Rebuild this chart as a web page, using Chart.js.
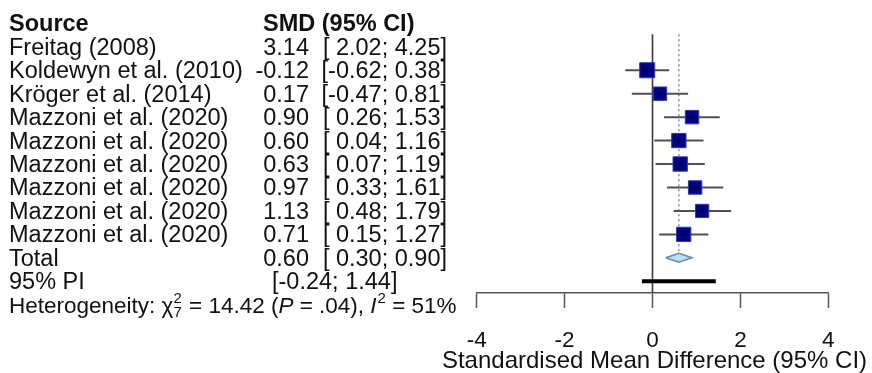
<!DOCTYPE html>
<html lang="en">

<head>
    <meta charset="UTF-8">
    <title>Forest plot SMD</title>
    <style>
        body { margin: 0; background: #fff; }
        #wrap { position: relative; width: 872px; height: 373px; }
    </style>
</head>

<body>
    <div id="wrap">
        <canvas id="forest"></canvas>
    </div>
    <script src="https://cdn.jsdelivr.net/npm/chart.js"></script>
    <script>
        // data
        const studies = ['Freitag (2008)', 'Koldewyn et al. (2010)', 'Kröger et al. (2014)',
            'Mazzoni et al. (2020)', 'Mazzoni et al. (2020)', 'Mazzoni et al. (2020)',
            'Mazzoni et al. (2020)', 'Mazzoni et al. (2020)', 'Mazzoni et al. (2020)'];
        const smd = [3.14, -0.12, 0.17, 0.90, 0.60, 0.63, 0.97, 1.13, 0.71];
        const ciLow = [2.02, -0.62, -0.47, 0.26, 0.04, 0.07, 0.33, 0.48, 0.15];
        const ciHigh = [4.25, 0.38, 0.81, 1.53, 1.16, 1.19, 1.61, 1.79, 1.27];
        // % weight (Freitag excluded, so no box drawn)
        const weights = [0, 14.5, 11.6, 11.7, 13.2, 13.2, 11.6, 11.3, 13.2];
        const totalSmd = 0.60;
        const totalCi = [0.30, 0.90];
        const predInterval = [-0.24, 1.44];
        const xTicks = [-4, -2, 0, 2, 4];
        const hetChi2 = 14.42, hetDf = 7, hetP = '.04', hetI2 = 51;
        const xTitle = 'Standardised Mean Difference (95% CI)';

        // rows: 0 = header, 1..9 studies, 10 total, 11 PI, 12 heterogeneity
        const totalRow = studies.length + 1;
        const piRow = studies.length + 2;
        const hetRow = studies.length + 3;

        const FONT = '"Liberation Sans", Arial, Helvetica, sans-serif';

        function pad(v) {
            return (v < 0 ? '' : ' ') + v.toFixed(2);
        }
        function ciText(lo, hi) {
            return '[' + pad(lo) + '; ' + hi.toFixed(2) + ']';
        }

        const shown = studies.map((s, i) => i).filter(i => weights[i] > 0);

        const datasets = [];
        // CI lines
        shown.forEach(i => {
            datasets.push({
                data: [{ x: ciLow[i], y: i + 1 }, { x: ciHigh[i], y: i + 1 }],
                showLine: true, pointRadius: 0, borderColor: '#505050', borderWidth: 2, order: 5
            });
        });
        // boxes, size from weight
        datasets.push({
            data: shown.map(i => ({ x: smd[i], y: i + 1 })),
            pointStyle: 'rect',
            pointRadius: shown.map(i => 3.94 * Math.sqrt(weights[i]) / 1.414),
            backgroundColor: '#00008b',
            borderColor: '#2a3cb2',
            borderWidth: 1,
            order: 2
        });
        // small centre mark
        datasets.push({
            data: shown.map(i => ({ x: smd[i], y: i + 1 })),
            pointStyle: 'cross', pointRadius: 2.5, borderColor: '#000', borderWidth: 1, order: 1
        });
        // line of no effect
        datasets.push({
            data: [{ x: 0, y: 0.47 }, { x: 0, y: piRow + 0.5 }],
            showLine: true, pointRadius: 0, borderColor: '#3a3a3a', borderWidth: 1.6, order: 10
        });
        // dotted line at the pooled estimate
        datasets.push({
            data: [{ x: totalSmd, y: 0.47 }, { x: totalSmd, y: totalRow - 0.2 }],
            showLine: true, pointRadius: 0, borderColor: '#8a8a8a', borderWidth: 1.5,
            borderDash: [2, 3], order: 9
        });
        // pooled diamond
        datasets.push({
            data: [
                { x: totalCi[0], y: totalRow }, { x: totalSmd, y: totalRow - 0.19 },
                { x: totalCi[1], y: totalRow }, { x: totalSmd, y: totalRow + 0.19 },
                { x: totalCi[0], y: totalRow }
            ],
            showLine: true, pointRadius: 0, fill: 'shape', tension: 0,
            backgroundColor: '#b4e2f0', borderColor: '#6d8d9c', borderWidth: 1.5, order: 4
        });
        // prediction interval
        datasets.push({
            data: [{ x: predInterval[0], y: piRow }, { x: predInterval[1], y: piRow }],
            showLine: true, pointRadius: 0, borderColor: '#000', borderWidth: 4, order: 5
        });

        // text columns on the left + axis title
        const forestText = {
            id: 'forestText',
            afterDraw(chart) {
                const ctx = chart.ctx;
                const ys = chart.scales.y;
                const xs = chart.scales.x;
                const base = r => ys.getPixelForValue(r) + 8;
                ctx.save();
                ctx.fillStyle = '#111';
                ctx.textBaseline = 'alphabetic';

                ctx.textAlign = 'left';
                ctx.font = 'bold 23.5px ' + FONT;
                ctx.fillText('Source', 9, base(0));
                ctx.fillText('SMD (95% CI)', 263, base(0));

                ctx.font = '23.5px ' + FONT;
                const row = (label, est, lo, hi, r) => {
                    ctx.textAlign = 'left';
                    ctx.fillText(label, 9, base(r));
                    ctx.textAlign = 'right';
                    ctx.fillText(est.toFixed(2), 309, base(r));
                    ctx.fillText(ciText(lo, hi), 447, base(r));
                };
                studies.forEach((s, i) => row(s, smd[i], ciLow[i], ciHigh[i], i + 1));
                row('Total', totalSmd, totalCi[0], totalCi[1], totalRow);
                ctx.textAlign = 'left';
                ctx.fillText('95% PI', 9, base(piRow));
                ctx.fillText('[' + predInterval[0].toFixed(2) + '; ' + predInterval[1].toFixed(2) + ']', 272, base(piRow));

                // heterogeneity line
                const b = base(hetRow);
                const norm = '22.5px ' + FONT, ital = 'italic 22.5px ' + FONT, small = '15px ' + FONT;
                let x = 9;
                const put = (t, f, dy) => {
                    ctx.font = f;
                    ctx.fillText(t, x, b + (dy || 0));
                    x += ctx.measureText(t).width;
                };
                put('Heterogeneity: ', norm);
                put('\u03c7', norm);
                ctx.font = small;
                ctx.fillText('2', x, b - 10);
                ctx.fillText(String(hetDf), x, b + 4);
                x += ctx.measureText('2').width + 1;
                put(' = ' + hetChi2.toFixed(2) + ' (', norm);
                put('P', ital);
                put(' = ' + hetP + '), ', norm);
                put('I', ital);
                x += 1;
                put('2', small, -10);
                put(' = ' + hetI2 + '%', norm);

                // x axis title (wider than the plot area)
                ctx.font = '24px ' + FONT;
                ctx.textAlign = 'center';
                ctx.fillText(xTitle, (xs.left + xs.right) / 2 + 2, 368);
                ctx.restore();
            }
        };

        new Chart(document.getElementById('forest'), {
            type: 'scatter',
            data: { datasets: datasets },
            options: {
                responsive: true,
                maintainAspectRatio: false,
                animation: false,
                events: [],
                layout: { padding: { left: 476.7, right: 43.7, top: 10.2, bottom: 0 } },
                plugins: { legend: { display: false }, tooltip: { enabled: false } },
                scales: {
                    x: {
                        type: 'linear', min: -4, max: 4,
                        afterBuildTicks: s => { s.ticks = xTicks.map(v => ({ value: v })); },
                        afterFit: s => { s.height = 80; },
                        border: { display: true, color: '#555', width: 1.5 },
                        grid: { drawOnChartArea: false, drawTicks: true, tickLength: 15, tickColor: '#555', tickWidth: 1.5 },
                        ticks: { color: '#111', padding: 19, font: { size: 22.5, family: FONT } },
                        title: { display: false }
                    },
                    y: { type: 'linear', reverse: true, min: -0.5, max: 11.5, display: false }
                }
            },
            plugins: [forestText]
        });
    </script>
</body>

</html>
